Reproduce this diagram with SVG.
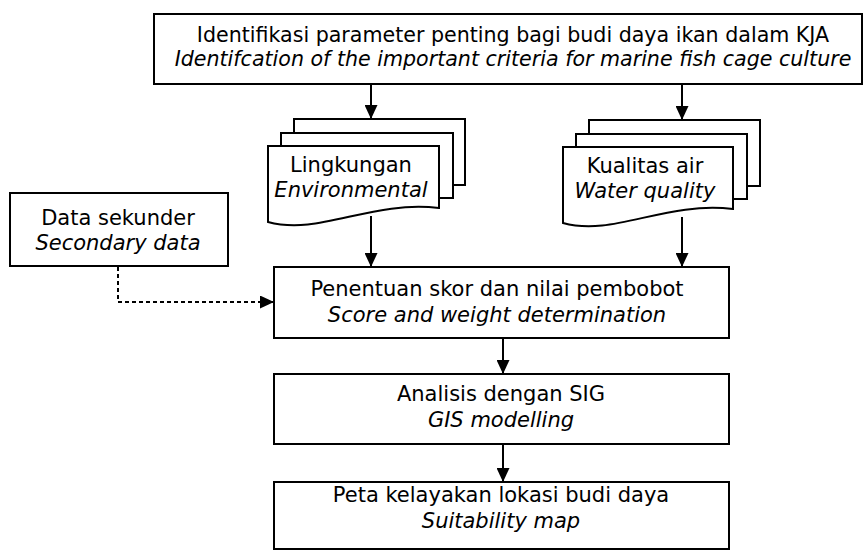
<svg xmlns="http://www.w3.org/2000/svg" width="866" height="551" viewBox="0 0 866 551">
<defs>
<marker id="ah" viewBox="0 0 14 13" refX="14" refY="6.5" markerWidth="14" markerHeight="13" markerUnits="userSpaceOnUse" orient="auto">
<path d="M0,0 L14,6.5 L0,13 Z" fill="#000"/>
</marker>
<style>
.box{fill:#fff;stroke:#000;stroke-width:2}
.t{font-family:"DejaVu Sans","Open Sans",sans-serif;font-size:21px;fill:#000;text-anchor:middle}
.s{font-size:20.6px}
.i{font-style:italic}
.c{fill:none;stroke:#000;stroke-width:2}
.d{stroke-dasharray:4 3}
</style>
</defs>
<rect width="866" height="551" fill="#fff"/>
<g id="connectors">
<line class="c" x1="371" y1="84" x2="371" y2="119" marker-end="url(#ah)"/>
<line class="c" x1="682" y1="84" x2="682" y2="120" marker-end="url(#ah)"/>
<line class="c" x1="371" y1="216" x2="371" y2="267" marker-end="url(#ah)"/>
<line class="c" x1="682" y1="217" x2="682" y2="267" marker-end="url(#ah)"/>
<polyline class="c d" points="118,267 118,302 274,302" marker-end="url(#ah)"/>
<line class="c" x1="503" y1="338" x2="503" y2="374" marker-end="url(#ah)"/>
<line class="c" x1="503" y1="444" x2="503" y2="482" marker-end="url(#ah)"/>
</g>
<g id="identifikasi">
<rect class="box" x="154" y="14" width="708" height="70"/>
<text class="t s" x="513" y="41.5">Identifikasi parameter penting bagi budi daya ikan dalam KJA</text>
<text class="t s i" x="513" y="66">Identifcation of the important criteria for marine fish cage culture</text>
</g>
<g id="lingkungan">
<rect class="box" x="294" y="119" width="171" height="66"/>
<rect class="box" x="281" y="133" width="172" height="65"/>
<path class="box" d="M268,146 H439 V208 C370,200 320,236 268,222 Z"/>
<text class="t" x="351" y="172">Lingkungan</text>
<text class="t i" x="351" y="197">Environmental</text>
</g>
<g id="kualitas">
<rect class="box" x="589" y="120" width="171" height="66"/>
<rect class="box" x="576" y="134" width="171" height="65"/>
<path class="box" d="M563,147 H733 V209 C664,201 614,237 563,223 Z"/>
<text class="t" x="645" y="173">Kualitas air</text>
<text class="t i" x="645" y="198">Water quality</text>
</g>
<g id="sekunder">
<rect class="box" x="10" y="193" width="218" height="73"/>
<text class="t" x="118" y="225">Data sekunder</text>
<text class="t i" x="118" y="250">Secondary data</text>
</g>
<g id="penentuan">
<rect class="box" x="274" y="267" width="455" height="71"/>
<text class="t" x="497" y="296">Penentuan skor dan nilai pembobot</text>
<text class="t i" x="497" y="322">Score and weight determination</text>
</g>
<g id="analisis">
<rect class="box" x="274" y="374" width="455" height="70"/>
<text class="t" x="501" y="401">Analisis dengan SIG</text>
<text class="t i" x="501" y="427">GIS modelling</text>
</g>
<g id="peta">
<rect class="box" x="274" y="482" width="455" height="67"/>
<text class="t" x="501" y="502">Peta kelayakan lokasi budi daya</text>
<text class="t i" x="501" y="528">Suitability map</text>
</g>
</svg>
